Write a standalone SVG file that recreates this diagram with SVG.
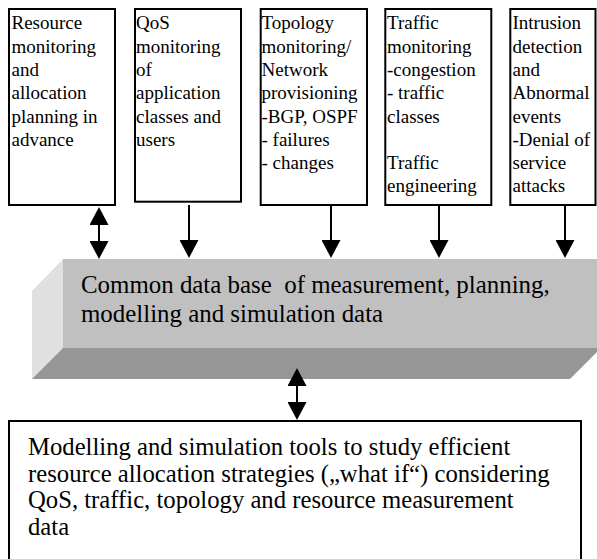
<svg xmlns="http://www.w3.org/2000/svg" width="597" height="559" viewBox="0 0 597 559">
<style>
.box{fill:#fff;stroke:#000;stroke-width:2}
.t{font-family:"Liberation Serif","Times New Roman",serif;fill:#000;white-space:pre}
.s{font-size:19px}
.l{font-size:24.9px}
.c{stroke:#000;stroke-width:2;fill:none;marker-end:url(#ah)}
.d{marker-start:url(#ah)}
</style>
<defs>
<marker id="ah" markerUnits="userSpaceOnUse" markerWidth="19" markerHeight="19" viewBox="0 0 18 19" refX="0" refY="9.5" orient="auto-start-reverse">
<path d="M0,0 L18,9.5 L0,19 z" fill="#000"/>
</marker>
</defs>
<rect width="597" height="559" fill="#fff"/>
<g id="box1">
<rect class="box" x="9" y="9" width="106" height="196"/>
<text class="t s"><tspan x="11.5" y="29.3">Resource</tspan><tspan x="11.5" y="52.6">monitoring</tspan><tspan x="11.5" y="75.9">and</tspan><tspan x="11.5" y="99.2">allocation</tspan><tspan x="11.5" y="122.5">planning in</tspan><tspan x="11.5" y="145.8">advance</tspan></text>
</g>
<g id="box2">
<rect class="box" x="135" y="9" width="106" height="192.7"/>
<text class="t s"><tspan x="136" y="29.3">QoS</tspan><tspan x="136" y="52.6">monitoring</tspan><tspan x="136" y="75.9">of</tspan><tspan x="136" y="99.2">application</tspan><tspan x="136" y="122.5">classes and</tspan><tspan x="136" y="145.8">users</tspan></text>
</g>
<g id="box3">
<rect class="box" x="260.7" y="9" width="106.3" height="196"/>
<text class="t s"><tspan x="261.5" y="29.3">Topology</tspan><tspan x="261.5" y="52.6">monitoring/</tspan><tspan x="261.5" y="75.9">Network</tspan><tspan x="261.5" y="99.2">provisioning</tspan><tspan x="261.5" y="122.5">-BGP, OSPF</tspan><tspan x="261.5" y="145.8">- failures</tspan><tspan x="261.5" y="169.1">- changes</tspan></text>
</g>
<g id="box4">
<rect class="box" x="385.3" y="9" width="106" height="196"/>
<text class="t s"><tspan x="387" y="29.3">Traffic</tspan><tspan x="387" y="52.6">monitoring</tspan><tspan x="387" y="75.9">-congestion</tspan><tspan x="387" y="99.2">- traffic</tspan><tspan x="387" y="122.5">classes</tspan><tspan x="387" y="169.1">Traffic</tspan><tspan x="387" y="192.4">engineering</tspan></text>
</g>
<g id="box5">
<rect class="box" x="510.3" y="9" width="85.2" height="196"/>
<text class="t s"><tspan x="512.5" y="29.3">Intrusion</tspan><tspan x="512.5" y="52.6">detection</tspan><tspan x="512.5" y="75.9">and</tspan><tspan x="512.5" y="99.2">Abnormal</tspan><tspan x="512.5" y="122.5">events</tspan><tspan x="512.5" y="145.8">-Denial of</tspan><tspan x="512.5" y="169.1">service</tspan><tspan x="512.5" y="192.4">attacks</tspan></text>
</g>
<g id="database">
<polygon points="63,259 601,259 601,348 63,348" fill="#c0c0c0"/>
<polygon points="63,259 63,348 32,379 32,291" fill="#e0e0e0"/>
<polygon points="63,348 601,348 570,379 32,379" fill="#969696"/>
<text class="t l"><tspan x="81" y="293.3">Common data base  of measurement, planning,</tspan><tspan x="81" y="321.7">modelling and simulation data</tspan></text>
</g>
<g id="tools">
<rect class="box" x="9" y="421" width="572" height="160"/>
<text class="t l" style="font-size:24.7px"><tspan x="28" y="455">Modelling and simulation tools to study efficient</tspan><tspan x="28" y="481.7">resource allocation strategies („what if“) considering</tspan><tspan x="28" y="508.3">QoS, traffic, topology and resource measurement</tspan><tspan x="28" y="535">data</tspan></text>
</g>
<g id="connectors">
<line class="c d" x1="99" y1="225" x2="99" y2="241"/>
<line class="c" x1="189" y1="205" x2="189" y2="240"/>
<line class="c" x1="331" y1="205" x2="331" y2="240"/>
<line class="c" x1="439" y1="205" x2="439" y2="240"/>
<line class="c" x1="565" y1="205" x2="565" y2="240"/>
<line class="c d" x1="297" y1="386" x2="297" y2="402"/>
</g>
</svg>
